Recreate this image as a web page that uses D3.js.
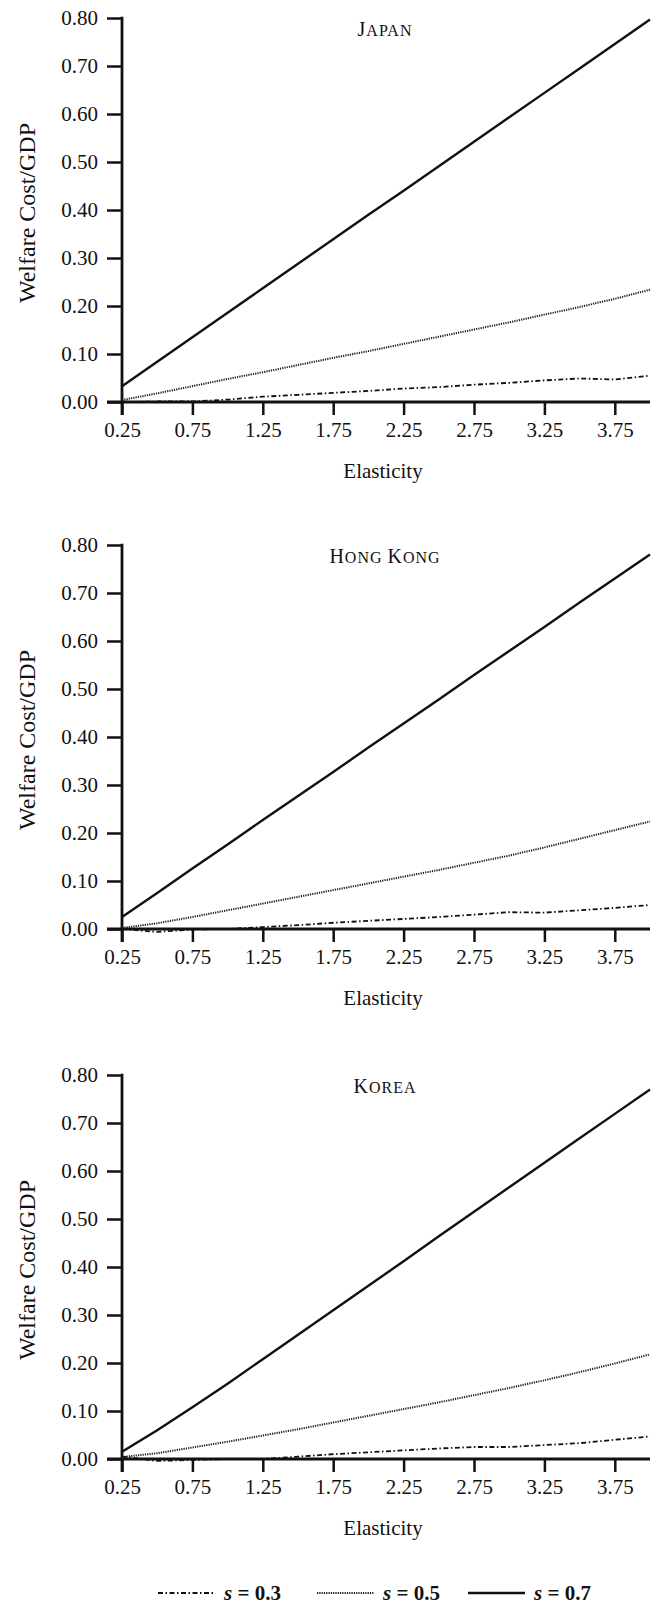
<!DOCTYPE html>
<html>
<head>
<meta charset="utf-8">
<script src="https://cdn.jsdelivr.net/npm/d3@7"></script>
<style>
  body { margin: 0; background: #fff; }
  svg text { font-family: "Liberation Serif", "Times New Roman", serif; fill: #111; }
</style>
</head>
<body>
<div id="chart"></div>
<script>
// elasticity grid shared by all panels
const elasticity = [0.25, 0.5, 0.75, 1.0, 1.25, 1.5, 1.75, 2.0, 2.25, 2.5, 2.75, 3.0, 3.25, 3.5, 3.75, 4.0];

const panelNames = ["Japan", "Hong Kong", "Korea"];
const seriesNames = ["s03", "s05", "s07"];
const seriesLabels = ["0.3", "0.5", "0.7"];

const japanS03 = [0.000, 0.001, 0.001, 0.005, 0.011, 0.015, 0.019, 0.023, 0.028, 0.031, 0.036, 0.040, 0.045, 0.049, 0.047, 0.055];
const japanS05 = [0.004, 0.018, 0.033, 0.048, 0.062, 0.077, 0.092, 0.106, 0.121, 0.136, 0.151, 0.166, 0.182, 0.198, 0.215, 0.234];
const japanS07 = [0.033, 0.084, 0.135, 0.186, 0.237, 0.288, 0.339, 0.390, 0.440, 0.491, 0.542, 0.593, 0.644, 0.695, 0.746, 0.797];

const hongKongS03 = [0.000, -0.006, -0.001, 0.000, 0.004, 0.008, 0.013, 0.017, 0.021, 0.025, 0.030, 0.035, 0.034, 0.039, 0.044, 0.050];
const hongKongS05 = [0.002, 0.012, 0.025, 0.039, 0.053, 0.067, 0.081, 0.095, 0.109, 0.123, 0.138, 0.153, 0.170, 0.188, 0.206, 0.224];
const hongKongS07 = [0.025, 0.075, 0.126, 0.176, 0.227, 0.277, 0.327, 0.378, 0.428, 0.478, 0.529, 0.579, 0.629, 0.680, 0.730, 0.780];

const koreaS03 = [0.005, -0.004, -0.002, 0.000, 0.000, 0.005, 0.010, 0.014, 0.018, 0.022, 0.025, 0.025, 0.029, 0.033, 0.040, 0.047];
const koreaS05 = [0.004, 0.012, 0.024, 0.036, 0.049, 0.062, 0.076, 0.090, 0.104, 0.118, 0.133, 0.148, 0.164, 0.181, 0.199, 0.218];
const koreaS07 = [0.015, 0.060, 0.108, 0.157, 0.208, 0.259, 0.310, 0.361, 0.412, 0.464, 0.515, 0.566, 0.617, 0.668, 0.719, 0.770];

const xTicks = [0.25, 0.75, 1.25, 1.75, 2.25, 2.75, 3.25, 3.75];
const yTicks = [0, 0.1, 0.2, 0.3, 0.4, 0.5, 0.6, 0.7, 0.8];

const panelData = [
  [japanS03, japanS05, japanS07],
  [hongKongS03, hongKongS05, hongKongS07],
  [koreaS03, koreaS05, koreaS07]
];

const W = 666, H = 1604;
const left = 122, right = 650;
const plotH = 384;
const panelTops = [18, 545, 1075];

const styles = {
  s03: { width: 1.8, dash: "5,2.5,1.5,2.5", color: "#111" },
  s05: { width: 2, dash: "1.2,1.1", color: "#1a1a1a" },
  s07: { width: 2.4, dash: null, color: "#111" }
};

const svg = d3.select("#chart").append("svg")
  .attr("width", W).attr("height", H);

const x = d3.scaleLinear().domain([0.25, 4.0]).range([left, right]);

// small caps by hand: first letter of each word full size, rest uppercase smaller
function smallCaps(textSel, str, big, small) {
  str.split(" ").forEach((word, wi) => {
    if (wi > 0) textSel.append("tspan").style("font-size", small + "px").text(" ");
    textSel.append("tspan").style("font-size", big + "px").text(word[0].toUpperCase());
    textSel.append("tspan").style("font-size", small + "px").text(word.slice(1).toUpperCase());
  });
}

panelNames.forEach((name, pi) => {
  const top = panelTops[pi];
  const y = d3.scaleLinear().domain([0, 0.8]).range([top + plotH, top]);
  const g = svg.append("g");

  const yAxis = g.append("g")
    .attr("transform", `translate(${left},0)`)
    .call(d3.axisLeft(y).tickValues(yTicks).tickFormat(d3.format(".2f")).tickSize(15).tickPadding(9));
  const xAxis = g.append("g")
    .attr("transform", `translate(0,${top + plotH})`)
    .call(d3.axisBottom(x).tickValues(xTicks).tickFormat(d3.format(".2f")).tickSize(13).tickPadding(7));

  [yAxis, xAxis].forEach(a => {
    a.select(".domain").remove();
    a.selectAll(".tick line").attr("stroke", "#111").attr("stroke-width", 2.5);
    a.selectAll("text").style("font-size", "21px").attr("fill", "#111");
  });

  g.append("line")
    .attr("x1", left).attr("x2", left)
    .attr("y1", y(0.8) - 1.2).attr("y2", y(0) + 13)
    .attr("stroke", "#111").attr("stroke-width", 2.8);
  g.append("line")
    .attr("x1", left - 15).attr("x2", right)
    .attr("y1", y(0)).attr("y2", y(0))
    .attr("stroke", "#111").attr("stroke-width", 2.8);

  seriesNames.forEach((s, si) => {
    const line = d3.line()
      .x((d, i) => x(elasticity[i]))
      .y(d => y(d));
    const st = styles[s];
    g.append("path")
      .datum(panelData[pi][si])
      .attr("d", line)
      .attr("fill", "none")
      .attr("stroke", st.color)
      .attr("stroke-width", st.width)
      .attr("stroke-dasharray", st.dash);
  });

  const title = g.append("text")
    .attr("x", 385).attr("y", top + 18)
    .attr("text-anchor", "middle")
    .style("letter-spacing", "1px");
  smallCaps(title, name, 20, 16);

  g.append("text")
    .attr("x", 383).attr("y", top + plotH + 76)
    .attr("text-anchor", "middle")
    .style("font-size", "21px")
    .text("Elasticity");
  g.append("text")
    .attr("transform", `translate(35,${top + 195}) rotate(-90)`)
    .attr("text-anchor", "middle")
    .style("font-size", "24px")
    .text("Welfare Cost/GDP");
});

// legend
const legendY = 1593;
const legendX = [158, 317, 468];
seriesNames.forEach((s, i) => {
  const st = styles[s];
  svg.append("line")
    .attr("x1", legendX[i]).attr("x2", legendX[i] + 57)
    .attr("y1", legendY).attr("y2", legendY)
    .attr("stroke", st.color)
    .attr("stroke-width", st.width)
    .attr("stroke-dasharray", st.dash);
  const t = svg.append("text")
    .attr("x", legendX[i] + 66).attr("y", legendY + 7)
    .style("font-size", "21px").style("font-weight", "bold");
  t.append("tspan").style("font-style", "italic").text("s");
  t.append("tspan").text(" = " + seriesLabels[i]);
});
</script>
</body>
</html>
